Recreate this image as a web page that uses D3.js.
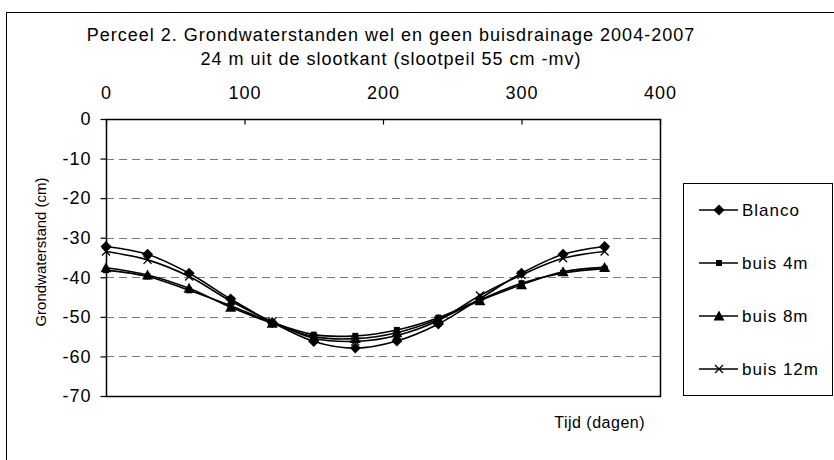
<!DOCTYPE html>
<html>
<head>
<meta charset="utf-8">
<script src="https://cdn.jsdelivr.net/npm/d3@7"></script>
<style>
  html, body { margin: 0; padding: 0; background: #fff; }
  svg { display: block; }
  text { font-family: "Liberation Sans", Arial, sans-serif; fill: #000; }
</style>
</head>
<body>
<svg id="chart" width="834" height="460"></svg>
<script>
// Days after start of the year (measurement moments)
const days = [0, 30, 60, 90, 120, 150, 180, 210, 240, 270, 300, 330, 360];

// Groundwater levels (cm below surface) per treatment
const blanco = [-32.2, -34.2, -39.0, -45.5, -51.4, -56.2, -57.9, -56.1, -51.8, -45.4, -39.0, -34.2, -32.2];
const buis4m = [-38.2, -39.8, -43.3, -47.2, -51.4, -54.5, -54.8, -53.3, -50.2, -45.7, -41.5, -38.9, -37.8];
const buis8m = [-37.6, -39.4, -42.8, -47.6, -51.6, -55.0, -55.5, -54.0, -50.6, -45.9, -41.9, -38.6, -37.5];
const buis12m = [-33.5, -35.6, -39.8, -46.0, -51.2, -55.4, -56.2, -54.7, -50.9, -44.6, -39.4, -35.2, -33.5];

const seriesNames = ["Blanco", "buis 4m", "buis 8m", "buis 12m"];
const seriesMarkers = ["diamond", "square", "triangle", "x"];
const seriesValues = [blanco, buis4m, buis8m, buis12m];

const xTicks = [0, 100, 200, 300, 400];
const yTicks = [0, -10, -20, -30, -40, -50, -60, -70];
const gridTicks = [-10, -20, -30, -40, -50, -60];

const titleLines = [
  "Perceel 2. Grondwaterstanden wel en geen buisdrainage 2004-2007",
  "24 m uit de slootkant (slootpeil 55 cm -mv)"
];

const svg = d3.select("#chart");

// Outer chart frame
svg.append("rect")
  .attr("x", 6.5).attr("y", 12.5)
  .attr("width", 900).attr("height", 600)
  .attr("fill", "none").attr("stroke", "#000").attr("stroke-width", 1);

const plot = { left: 106, right: 660, top: 119, bottom: 396 };

const x = d3.scaleLinear().domain([0, 400]).range([plot.left, plot.right]);
const y = d3.scaleLinear().domain([-70, 0]).range([plot.bottom, plot.top]);

// Title
svg.append("g").selectAll("text")
  .data(titleLines)
  .join("text")
  .attr("x", 391)
  .attr("y", (d, i) => 41 + i * 24)
  .attr("text-anchor", "middle")
  .attr("letter-spacing", "1px")
  .style("font-size", "18px")
  .text(d => d);

// Dashed horizontal gridlines
svg.append("g").selectAll("line")
  .data(gridTicks)
  .join("line")
  .attr("x1", plot.left).attr("x2", plot.right)
  .attr("y1", d => Math.round(y(d)) + 0.5).attr("y2", d => Math.round(y(d)) + 0.5)
  .attr("stroke", "#7a7a7a")
  .attr("stroke-width", 1)
  .attr("stroke-dasharray", "8,5");

// Plot frame
svg.append("rect")
  .attr("x", plot.left + 0.5).attr("y", plot.top + 0.5)
  .attr("width", plot.right - plot.left).attr("height", plot.bottom - plot.top)
  .attr("fill", "none").attr("stroke", "#000").attr("stroke-width", 1.5);

// Top x axis, ticks pointing into the plot
const xAxis = svg.append("g")
  .attr("transform", `translate(0,${plot.top + 0.5})`)
  .call(d3.axisTop(x).tickValues(xTicks).tickSize(-5).tickPadding(21).tickFormat(d3.format("d")));
xAxis.select(".domain").remove();
xAxis.selectAll(".tick line").attr("stroke", "#000").attr("stroke-width", 1.2);
xAxis.selectAll("text").style("font-size", "18px").attr("fill", "#000").attr("letter-spacing", "1px");

// Left y axis
const yAxis = svg.append("g")
  .attr("transform", `translate(${plot.left + 0.5},0)`)
  .call(d3.axisLeft(y).tickValues(yTicks).tickSize(6).tickPadding(9)
    .tickFormat(d => d < 0 ? "-" + Math.abs(d) : String(d)));
yAxis.select(".domain").remove();
yAxis.selectAll(".tick line").attr("stroke", "#000").attr("stroke-width", 1.2);
yAxis.selectAll("text").style("font-size", "18px").attr("fill", "#000").attr("letter-spacing", "1px");

// Axis titles
svg.append("text")
  .attr("transform", "translate(46,252) rotate(-90)")
  .attr("text-anchor", "middle")
  .style("font-size", "15px")
  .text("Grondwaterstand (cm)");

svg.append("text")
  .attr("x", 645).attr("y", 428)
  .attr("text-anchor", "end")
  .attr("letter-spacing", "0.5px")
  .style("font-size", "16px")
  .text("Tijd (dagen)");

// Marker shapes
function markerPath(type) {
  if (type === "diamond") return "M0,-5.5L5.5,0L0,5.5L-5.5,0Z";
  if (type === "square") return "M-3,-3H3V3H-3Z";
  if (type === "triangle") return "M0,-5.5L5.5,4.5L-5.5,4.5Z";
  return "M-4,-4L4,4M-4,4L4,-4";
}
function drawMarker(g, type) {
  const p = g.append("path").attr("d", markerPath(type));
  if (type === "x") p.attr("fill", "none").attr("stroke", "#000").attr("stroke-width", 1.3);
  else p.attr("fill", "#000").attr("stroke", "none");
}

// Smoothed series lines
const line = d3.line()
  .x((d, i) => x(days[i]))
  .y(d => y(d))
  .curve(d3.curveCatmullRom.alpha(0.5));

const seriesG = svg.append("g");
seriesValues.forEach((vals) => {
  seriesG.append("path")
    .attr("d", line(vals))
    .attr("fill", "none")
    .attr("stroke", "#000")
    .attr("stroke-width", 1.6);
});
seriesValues.forEach((vals, s) => {
  vals.forEach((v, i) => {
    const g = seriesG.append("g").attr("transform", `translate(${x(days[i])},${y(v)})`);
    drawMarker(g, seriesMarkers[s]);
  });
});

// Legend
const legend = svg.append("g");
legend.append("rect")
  .attr("x", 683.5).attr("y", 183.5)
  .attr("width", 149).attr("height", 212)
  .attr("fill", "#fff").attr("stroke", "#000").attr("stroke-width", 1);

seriesNames.forEach((name, i) => {
  const ly = 210 + i * 53;
  const g = legend.append("g");
  g.append("line")
    .attr("x1", 699).attr("x2", 738)
    .attr("y1", ly).attr("y2", ly)
    .attr("stroke", "#000").attr("stroke-width", 1.6);
  drawMarker(g.append("g").attr("transform", `translate(719,${ly})`), seriesMarkers[i]);
  g.append("text")
    .attr("x", 742).attr("y", ly + 6)
    .attr("letter-spacing", "1px")
    .style("font-size", "17px")
    .text(name);
});
</script>
</body>
</html>
